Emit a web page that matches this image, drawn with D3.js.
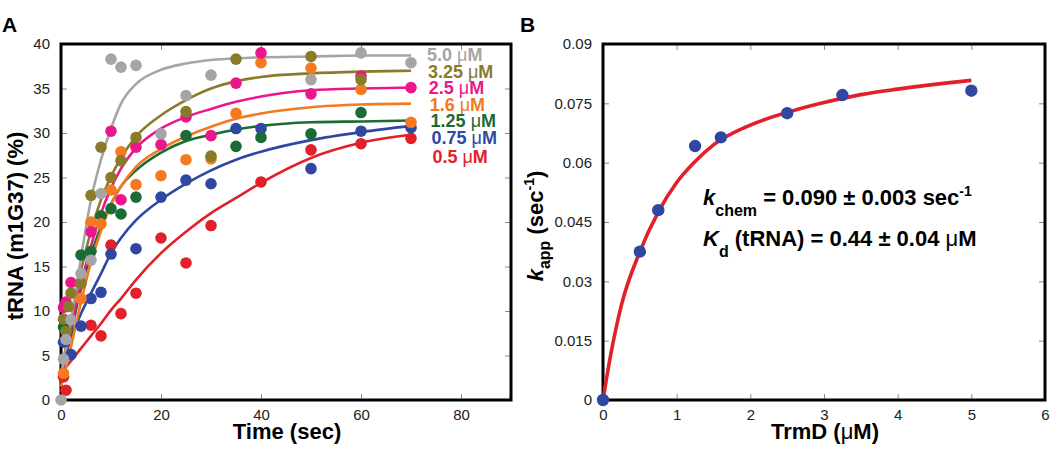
<!DOCTYPE html>
<html>
<head>
<meta charset="utf-8">
<script src="https://cdn.jsdelivr.net/npm/d3@7"></script>
<style>
  body { margin: 0; background: #fff; }
  svg { font-family: "Liberation Sans", Arial, sans-serif; }
</style>
</head>
<body>
<div id="chart"></div>
<script>
// ---- Panel A: time courses (time in sec, tRNA in %) ----
const seriesNames = ["0.5", "0.75", "1.25", "1.6", "2.5", "3.25", "5.0"];
const seriesColors = ["#e2202a", "#2f47a0", "#1b6b35", "#f37a21", "#ec168c", "#8a7b2a", "#a5a5a5"];

const timeRed    = [0.5, 1, 6, 8, 10, 12, 15, 20, 25, 30, 40, 50, 60, 70];
const valRed     = [2.6, 1.1, 8.4, 7.2, 17.4, 9.7, 12.0, 18.2, 15.4, 19.6, 24.5, 28.1, 28.8, 29.4];
const timeBlue   = [0.5, 2, 4, 6, 8, 10, 15, 20, 25, 30, 35, 40, 50, 60, 70];
const valBlue    = [6.5, 5.1, 8.3, 11.4, 12.1, 16.4, 17.0, 22.8, 24.7, 24.3, 30.5, 30.5, 26.0, 30.2, 30.6];
const timeGreen  = [0.5, 4, 6, 8, 10, 12, 15, 25, 35, 40, 50, 60];
const valGreen   = [8.2, 16.3, 16.7, 20.7, 21.5, 20.9, 22.8, 29.7, 28.5, 29.5, 29.9, 32.3];
const timeOrange = [0.5, 4, 6, 8, 10, 12, 15, 20, 25, 30, 35, 40, 50, 60, 70];
const valOrange  = [3.0, 11.4, 20.0, 19.8, 23.6, 27.9, 24.2, 25.2, 27.0, 27.1, 32.2, 37.9, 37.3, 34.9, 31.2];
const timePink   = [0.5, 1, 2, 6, 10, 12, 15, 20, 25, 30, 35, 40, 50, 60, 70];
const valPink    = [10.4, 11.0, 13.2, 18.9, 30.2, 22.5, 28.4, 28.7, 31.8, 29.7, 35.6, 39.0, 34.4, 36.4, 35.1];
const timeOlive  = [0.5, 1, 1.5, 2, 4, 6, 8, 10, 12, 15, 25, 30, 35, 50, 60];
const valOlive   = [9.1, 7.7, 10.5, 12.0, 13.1, 23.0, 28.4, 25.0, 26.9, 29.5, 32.4, 27.4, 38.3, 38.6, 36.0];
const timeGray   = [0, 0.5, 1, 2, 4, 6, 8, 10, 12, 15, 20, 25, 30, 50, 60, 70];
const valGray    = [0, 4.6, 6.8, 9.0, 14.2, 15.7, 23.2, 38.3, 37.4, 37.6, 29.9, 34.2, 36.5, 36.0, 39.0, 37.9];

// fitted curves
const fitTime   = [0, 2, 4, 6, 8, 10, 12, 15, 20, 25, 30, 35, 40, 50, 60, 70];
const fitRed    = [3.0, 4.4, 5.8, 7.2, 8.6, 10.1, 11.4, 13.5, 16.5, 18.9, 21.0, 22.7, 24.4, 27.2, 28.9, 29.8];
const fitBlue   = [4.0, 7.0, 9.7, 12.0, 14.2, 16.5, 18.2, 20.2, 22.5, 24.3, 25.8, 27.0, 27.9, 29.2, 30.1, 30.8];
const fitGreen  = [2.0, 7.5, 12.5, 16.3, 19.5, 22.0, 24.0, 25.8, 27.8, 29.1, 29.8, 30.4, 30.8, 31.2, 31.3, 31.4];
const fitOrange = [1.5, 6.0, 11.0, 15.5, 19.0, 22.0, 24.0, 26.2, 28.2, 29.6, 30.7, 31.6, 32.2, 32.9, 33.2, 33.3];
const fitPink   = [2.5, 8.0, 13.0, 17.3, 21.0, 23.8, 26.0, 28.3, 30.5, 31.8, 32.7, 33.5, 34.1, 34.8, 35.0, 35.1];
const fitOlive  = [3.0, 9.0, 14.5, 19.0, 22.5, 25.1, 27.2, 29.6, 32.0, 33.7, 35.0, 35.8, 36.3, 36.7, 36.9, 37.0];
const fitGray   = [2.5, 9.0, 16.0, 22.5, 27.0, 30.5, 33.3, 35.5, 37.1, 37.8, 38.2, 38.4, 38.5, 38.6, 38.7, 38.7];

const xTicksA = [0, 20, 40, 60, 80];
const yTicksA = [0, 5, 10, 15, 20, 25, 30, 35, 40];

// ---- Panel B: kapp vs TrmD ----
const trmd = [0, 0.5, 0.75, 1.25, 1.6, 2.5, 3.25, 5];
const kapp = [0, 0.0375, 0.048, 0.0642, 0.0664, 0.0725, 0.0771, 0.0782];
const fitTrmd = [0, 0.1, 0.25, 0.5, 0.75, 1, 1.25, 1.5, 2, 2.5, 3, 3.5, 4, 4.5, 5];
const fitKapp = [0, 0.011, 0.024, 0.0375, 0.0475, 0.055, 0.0603, 0.0645, 0.0695, 0.0727, 0.0752, 0.0772, 0.0786, 0.0798, 0.0808];
const xTicksB = [0, 1, 2, 3, 4, 5, 6];
const yTicksB = [0, 0.015, 0.03, 0.045, 0.06, 0.075, 0.09];

const seriesA = [
  { t: timeRed, v: valRed, fit: fitRed },
  { t: timeBlue, v: valBlue, fit: fitBlue },
  { t: timeGreen, v: valGreen, fit: fitGreen },
  { t: timeOrange, v: valOrange, fit: fitOrange },
  { t: timePink, v: valPink, fit: fitPink },
  { t: timeOlive, v: valOlive, fit: fitOlive },
  { t: timeGray, v: valGray, fit: fitGray }
].map((s, i) => ({ ...s, name: seriesNames[i], color: seriesColors[i] }));

const svg = d3.select("#chart").append("svg")
  .attr("width", 1050).attr("height", 458);

function frame(g, x, y, xt, yt, fmtX, fmtY) {
  const [x0, x1] = x.range(), [y0, y1] = y.range();
  const tick = a => a.selectAll(".tick line").attr("stroke", "#8a8a8a").attr("stroke-width", 1);
  const lab = a => a.selectAll("text").attr("fill", "#222").style("font-size", "15px");

  g.append("g").attr("transform", `translate(0,${y0})`)
    .call(d3.axisBottom(x).tickValues(xt).tickSize(-6).tickPadding(9).tickFormat(fmtX))
    .call(a => a.select(".domain").remove()).call(tick).call(lab);
  g.append("g").attr("transform", `translate(0,${y1})`)
    .call(d3.axisTop(x).tickValues(xt).tickSize(-6).tickFormat(""))
    .call(a => a.select(".domain").remove()).call(tick);
  g.append("g").attr("transform", `translate(${x0},0)`)
    .call(d3.axisLeft(y).tickValues(yt).tickSize(-6).tickPadding(11).tickFormat(fmtY))
    .call(a => a.select(".domain").remove()).call(tick).call(lab);
  g.append("g").attr("transform", `translate(${x1},0)`)
    .call(d3.axisRight(y).tickValues(yt).tickSize(-6).tickFormat(""))
    .call(a => a.select(".domain").remove()).call(tick);

  g.append("rect")
    .attr("x", x0).attr("y", y1).attr("width", x1 - x0).attr("height", y0 - y1)
    .attr("fill", "none").attr("stroke", "#000").attr("stroke-width", 3);
}

// ================= Panel A =================
const xA = d3.scaleLinear().domain([0, 90]).range([61, 511]);
const yA = d3.scaleLinear().domain([0, 40]).range([400, 44]);
const gA = svg.append("g");
frame(gA, xA, yA, xTicksA, yTicksA, d3.format("d"), d3.format("d"));

const lineA = d3.line().x(d => xA(d[0])).y(d => yA(d[1])).curve(d3.curveMonotoneX);

seriesA.forEach(s => {
  gA.append("path")
    .datum(fitTime.map((t, i) => [t, s.fit[i]]))
    .attr("d", lineA)
    .attr("fill", "none").attr("stroke", s.color).attr("stroke-width", 2.6);
});
seriesA.forEach(s => {
  gA.selectAll(null)
    .data(s.t.map((t, i) => [t, s.v[i]]))
    .enter().append("circle")
    .attr("cx", d => xA(d[0])).attr("cy", d => yA(d[1]))
    .attr("r", 5.8).attr("fill", s.color);
});

// legend (top to bottom: highest concentration first)
const legendA = seriesA.slice().reverse();
legendA.forEach((s, i) => {
  const t = gA.append("text")
    .attr("x", 427 + i * 0.9).attr("y", 61 + i * 16.6 + (i === 6 ? 2 : 0))
    .attr("fill", s.color)
    .style("font-size", "18px").style("font-weight", "bold");
  t.append("tspan").text(s.name + " ");
  t.append("tspan").style("font-weight", "normal").text("μ");
  t.append("tspan").text("M");
});

svg.append("text").attr("x", 2).attr("y", 32)
  .style("font-size", "21px").style("font-weight", "bold").text("A");

svg.append("text").attr("x", 287).attr("y", 439).attr("text-anchor", "middle")
  .style("font-size", "22px").style("font-weight", "bold").text("Time (sec)");

svg.append("text")
  .attr("transform", "translate(23,226) rotate(-90)")
  .attr("text-anchor", "middle")
  .style("font-size", "22px").style("font-weight", "bold")
  .text("tRNA (m1G37) (%)");

// ================= Panel B =================
const xB = d3.scaleLinear().domain([0, 6]).range([603, 1045]);
const yB = d3.scaleLinear().domain([0, 0.09]).range([400, 44]);
const gB = svg.append("g");
frame(gB, xB, yB, xTicksB, yTicksB, d3.format("d"), d => d === 0 ? "0" : d3.format(".3~f")(d));

gB.append("path")
  .datum(fitTrmd.map((t, i) => [t, fitKapp[i]]))
  .attr("d", d3.line().x(d => xB(d[0])).y(d => yB(d[1])).curve(d3.curveMonotoneX))
  .attr("fill", "none").attr("stroke", "#e2202a").attr("stroke-width", 3.6);

gB.selectAll(".pt")
  .data(trmd.map((t, i) => [t, kapp[i]]))
  .enter().append("circle")
  .attr("cx", d => xB(d[0])).attr("cy", d => yB(d[1]))
  .attr("r", 6.2).attr("fill", "#2f47a0");

svg.append("text").attr("x", 520).attr("y", 32)
  .style("font-size", "21px").style("font-weight", "bold").text("B");

svg.append("text").attr("x", 825).attr("y", 439).attr("text-anchor", "middle")
  .style("font-size", "22px").style("font-weight", "bold")
  .call(t => {
    t.append("tspan").text("TrmD (");
    t.append("tspan").style("font-weight", "normal").text("μ");
    t.append("tspan").text("M)");
  });

const yTitleB = svg.append("text")
  .attr("transform", "translate(543,226) rotate(-90)")
  .attr("text-anchor", "middle")
  .style("font-size", "22px").style("font-weight", "bold");
yTitleB.append("tspan").style("font-style", "italic").text("k");
yTitleB.append("tspan").attr("dy", 7).style("font-size", "16px").text("app");
yTitleB.append("tspan").attr("dy", -7).text(" (sec");
yTitleB.append("tspan").attr("dy", -9).style("font-size", "14px").text("-1");
yTitleB.append("tspan").attr("dy", 9).text(")");

const ann1 = svg.append("text").attr("x", 703).attr("y", 205)
  .style("font-size", "22px").style("font-weight", "bold");
ann1.append("tspan").style("font-style", "italic").text("k");
ann1.append("tspan").attr("dy", 11).style("font-size", "16px").text("chem");
ann1.append("tspan").attr("dy", -11).text(" = 0.090 ± 0.003 sec");
ann1.append("tspan").attr("dy", -9).style("font-size", "14px").text("-1");

const ann2 = svg.append("text").attr("x", 703).attr("y", 246)
  .style("font-size", "22px").style("font-weight", "bold");
ann2.append("tspan").style("font-style", "italic").text("K");
ann2.append("tspan").attr("dy", 11).style("font-size", "16px").text("d");
ann2.append("tspan").attr("dy", -11).text(" (tRNA) = 0.44 ± 0.04 ");
ann2.append("tspan").style("font-weight", "normal").text("μ");
ann2.append("tspan").text("M");
</script>
</body>
</html>
